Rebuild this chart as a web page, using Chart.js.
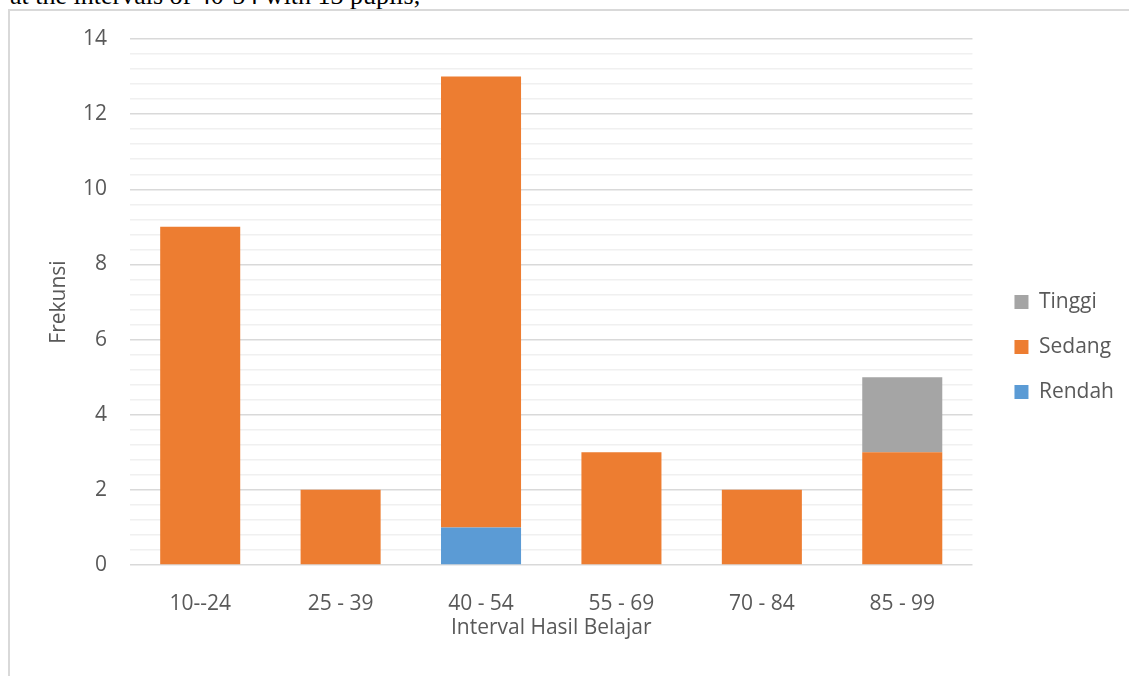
<!DOCTYPE html>
<html>
<head>
<meta charset="utf-8">
<script src="https://cdn.jsdelivr.net/npm/chart.js@4.4.1/dist/chart.umd.min.js"></script>
<style>
  html, body { margin: 0; padding: 0; background: #ffffff; overflow: hidden; }
  #page { position: relative; width: 1129px; height: 676px; overflow: hidden; }
  #caption {
    position: absolute; left: 10px; top: -17px;
    font-family: "Liberation Serif", "Times New Roman", serif;
    font-size: 26px; line-height: 26px; color: #000; white-space: nowrap;
  }
  #frame {
    position: absolute; left: 8px; top: 9px; width: 1200px; height: 800px;
    border: 2px solid #d9d9d9; box-sizing: border-box; background: #ffffff;
  }
  #chart { position: absolute; left: 0; top: 0; }
</style>
</head>
<body>
<div id="page">
  <div id="frame"></div>
  <div id="caption">at the intervals of 40-54 with 13 pupils,</div>
  <canvas id="chart" width="1129" height="676"></canvas>
</div>
<script>
// Score intervals and pupil counts per achievement level
const categories = ['10--24', '25 - 39', '40 - 54', '55 - 69', '70 - 84', '85 - 99'];
const rendah = [0, 0, 1, 0, 0, 0];
const sedang = [9, 2, 12, 3, 2, 3];
const tinggi = [0, 0, 0, 0, 0, 2];
const seriesNames = ['Rendah', 'Sedang', 'Tinggi'];
const yMax = 14;
const majorStep = 2;
const minorStep = 0.4;

const textColor = '#595959';
const fontFamily = '"Open Sans", "Noto Sans", sans-serif';
const fontSize = 21;

const isMajor = v => Math.abs(v / majorStep - Math.round(v / majorStep)) < 1e-6;

new Chart(document.getElementById('chart'), {
  type: 'bar',
  data: {
    labels: categories,
    datasets: [
      { label: seriesNames[0], data: rendah, backgroundColor: '#5B9BD5' },
      { label: seriesNames[1], data: sedang, backgroundColor: '#ED7D31' },
      { label: seriesNames[2], data: tinggi, backgroundColor: '#A5A5A5' }
    ]
  },
  options: {
    responsive: false,
    animation: false,
    devicePixelRatio: 1,
    layout: { padding: { left: 10, right: 5, top: 39, bottom: 21 } },
    datasets: { bar: { barPercentage: 0.57, categoryPercentage: 1, borderWidth: 0 } },
    plugins: {
      tooltip: { enabled: false },
      legend: {
        position: 'right',
        align: 'center',
        reverse: true,
        labels: {
          boxWidth: 14,
          boxHeight: 14,
          padding: 24,
          color: textColor,
          font: { family: fontFamily, size: fontSize }
        }
      }
    },
    scales: {
      x: {
        stacked: true,
        grid: { display: false },
        border: { display: false },
        ticks: { color: textColor, padding: 18, font: { family: fontFamily, size: fontSize } },
        title: {
          display: true,
          text: 'Interval Hasil Belajar',
          color: textColor,
          padding: { top: 0, bottom: 14 },
          font: { family: fontFamily, size: fontSize }
        },
        afterFit: s => { s.height = 90; }
      },
      y: {
        stacked: true,
        min: 0,
        max: yMax,
        border: { display: false },
        grid: {
          drawTicks: false,
          lineWidth: 1.5,
          color: c => (c.tick && isMajor(c.tick.value)) ? '#d9d9d9' : '#f0f0f0'
        },
        ticks: {
          stepSize: minorStep,
          autoSkip: false,
          padding: 23,
          color: textColor,
          font: { family: fontFamily, size: fontSize },
          callback: v => isMajor(v) ? String(Math.round(v)) : ''
        },
        title: {
          display: true,
          text: 'Frekunsi',
          color: textColor,
          padding: { top: 36, bottom: 0 },
          font: { family: fontFamily, size: fontSize }
        },
        afterFit: s => { s.width = 120; }
      },
      gap: {
        type: 'linear',
        position: 'right',
        display: true,
        grid: { display: false },
        border: { display: false },
        ticks: { display: false },
        afterFit: s => { s.width = 18; }
      }
    }
  }
});
</script>
</body>
</html>
